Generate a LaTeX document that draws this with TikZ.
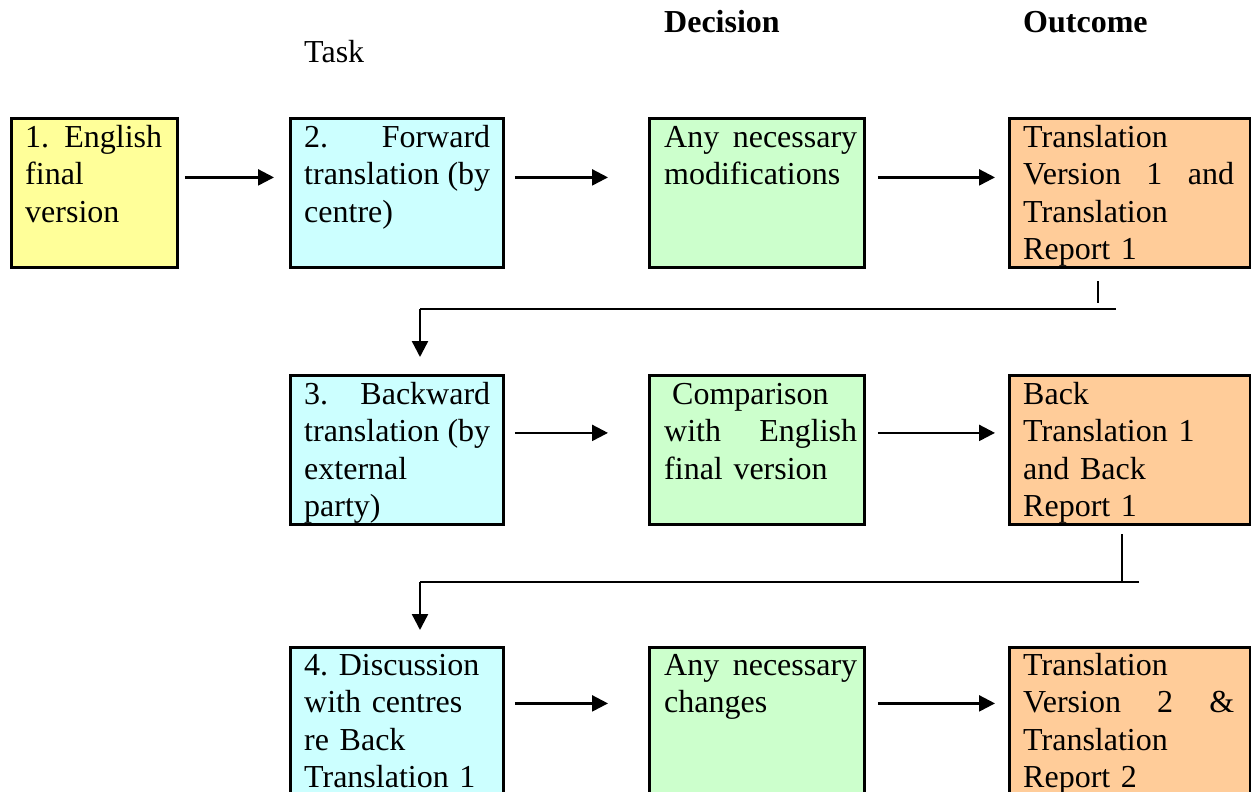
\documentclass[tikz,border=0pt]{standalone}
\usepackage{fontspec}
\setmainfont{Liberation Serif}
\usetikzlibrary{arrows.meta}
\definecolor{cyel}{HTML}{FFFF99}
\definecolor{ccyan}{HTML}{CCFFFF}
\definecolor{cgreen}{HTML}{CCFFCC}
\definecolor{corange}{HTML}{FFCC99}
\frenchspacing
\tikzset{
  boxnode/.style={draw=black, line width=2.8pt, rectangle, inner sep=0pt, minimum height=149pt},
  txt/.style={anchor=base west, inner sep=0pt, align=left, font=\fontsize{32}{37.5}\selectfont},
  head/.style={anchor=base west, inner sep=0pt, font=\fontsize{32}{37.5}\selectfont},
  conn/.style={line width=2.4pt},
  arr/.style={line width=2.4pt, -{Triangle[length=16pt,width=16pt]}},
}
\begin{document}
\begin{tikzpicture}[x=1pt,y=-1pt]
\clip (0,0) rectangle (1251,792);
\fill[white] (0,0) rectangle (1251,792);
% headings
\node[head] (hTask) at (304,63) {Task};
\node[head] (hDec) at (664,33) {\bfseries Decision};
\node[head] (hOut) at (1023,33) {\bfseries Outcome};
% row 1
\node[boxnode, fill=cyel, minimum width=166pt, anchor=north west] (b1) at (10,117) {};
\node[boxnode, fill=ccyan, minimum width=213pt, anchor=north west] (b2) at (289,117) {};
\node[boxnode, fill=cgreen, minimum width=215pt, anchor=north west] (b3) at (648,117) {};
\node[boxnode, fill=corange, minimum width=241pt, anchor=north west] (b4) at (1008,117) {};
\node[txt, text width=137pt] (t1) at (25,147) {1.\hfill English\\final\\version};
\node[txt, text width=186pt] (t2) at (304,147) {2.\hfill Forward\\translation\hfill (by\\centre)};
\node[txt, text width=193pt] (t3) at (664,147) {Any\hfill necessary\\modifications};
\node[txt, text width=211pt] (t4) at (1023,147) {Translation\\Version\hfill 1\hfill and\\Translation\\Report 1};
% row 2
\node[boxnode, fill=ccyan, minimum width=213pt, anchor=north west] (b5) at (289,374) {};
\node[boxnode, fill=cgreen, minimum width=215pt, anchor=north west] (b6) at (648,374) {};
\node[boxnode, fill=corange, minimum width=241pt, anchor=north west] (b7) at (1008,374) {};
\node[txt, text width=186pt] (t5) at (304,404) {3.\hfill Backward\\translation\hfill (by\\external\\party)};
\node[txt, text width=193pt] (t6) at (664,404) {\hspace*{8pt}Comparison\\with\hfill English\\final version};
\node[txt, text width=211pt] (t7) at (1023,404) {Back\\Translation 1\\and Back\\Report 1};
% row 3
\node[boxnode, fill=ccyan, minimum width=213pt, anchor=north west] (b8) at (289,646) {};
\node[boxnode, fill=cgreen, minimum width=215pt, anchor=north west] (b9) at (648,646) {};
\node[boxnode, fill=corange, minimum width=241pt, anchor=north west] (b10) at (1008,646) {};
\node[txt, text width=186pt] (t8) at (304,675) {4. Discussion\\with centres\\re Back\\Translation 1};
\node[txt, text width=193pt] (t9) at (664,675) {Any\hfill necessary\\changes};
\node[txt, text width=211pt] (t10) at (1023,675) {Translation\\Version\hfill 2\hfill \&\\Translation\\Report 2};
% horizontal arrows
\draw[arr, shorten <=6pt, shorten >=15pt] ([yshift=15.5pt]b1.east) -- ([yshift=15.5pt]b2.west);
\draw[arr, shorten <=10pt, shorten >=40pt] ([yshift=15.5pt]b2.east) -- ([yshift=15.5pt]b3.west);
\draw[arr, shorten <=12pt, shorten >=13pt] ([yshift=15.5pt]b3.east) -- ([yshift=15.5pt]b4.west);
\draw[arr, shorten <=10pt, shorten >=40pt] ([yshift=17pt]b5.east) -- ([yshift=17pt]b6.west);
\draw[arr, shorten <=12pt, shorten >=13pt] ([yshift=17pt]b6.east) -- ([yshift=17pt]b7.west);
\draw[arr, shorten <=10pt, shorten >=40pt] ([yshift=18.5pt]b8.east) -- ([yshift=18.5pt]b9.west);
\draw[arr, shorten <=12pt, shorten >=13pt] ([yshift=18.5pt]b9.east) -- ([yshift=18.5pt]b10.west);
% row connectors
\coordinate (v1a) at (1098,281);
\coordinate (v1b) at (1098,303);
\coordinate (h1r) at (1116,309);
\coordinate (h1l) at (420,309);
\draw[conn] (v1a) -- (v1b);
\draw[conn] (h1r) -- (h1l);
\draw[arr, shorten >=17pt] (h1l) -- (h1l |- b5.north);
\coordinate (v2a) at (1122,534);
\coordinate (h2r) at (1139,582);
\coordinate (h2l) at (420,582);
\draw[conn] (v2a) -- (v2a |- h2r);
\draw[conn] (h2r) -- (h2l);
\draw[arr, shorten >=16pt] (h2l) -- (h2l |- b8.north);
\end{tikzpicture}
\end{document}
